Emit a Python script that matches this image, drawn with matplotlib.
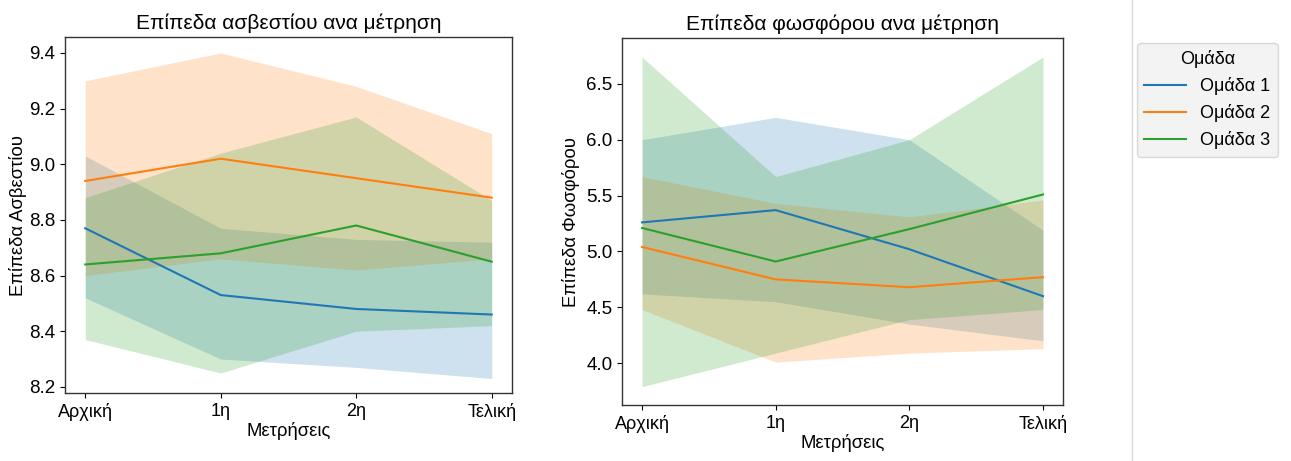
import numpy as np
import matplotlib
matplotlib.use("Agg")
import matplotlib.pyplot as plt
from matplotlib.lines import Line2D

matplotlib.rcParams.update({
    "font.family": ["Liberation Sans", "DejaVu Sans"],
    "font.size": 13,
    "axes.labelsize": 13.3,
    "xtick.labelsize": 13,
    "ytick.labelsize": 13.5,
    "axes.edgecolor": "#333333",
    "axes.linewidth": 1.0,
})

measures = ["Αρχική", "1η", "2η", "Τελική"]
groups = ["Ομάδα 1", "Ομάδα 2", "Ομάδα 3"]
colors = ["#1f77b4", "#ff7f0e", "#2ca02c"]

# calcium: mean, lower CI, upper CI per group
ca_mean = [[8.77, 8.53, 8.48, 8.46],
           [8.94, 9.02, 8.95, 8.88],
           [8.64, 8.68, 8.78, 8.65]]
ca_low = [[8.52, 8.30, 8.27, 8.23],
          [8.60, 8.66, 8.62, 8.66],
          [8.37, 8.25, 8.40, 8.42]]
ca_high = [[9.03, 8.77, 8.73, 8.72],
           [9.30, 9.40, 9.28, 9.11],
           [8.88, 9.04, 9.17, 8.87]]

# phosphorus
p_mean = [[5.26, 5.37, 5.02, 4.60],
          [5.04, 4.75, 4.68, 4.77],
          [5.21, 4.91, 5.20, 5.51]]
p_low = [[4.62, 4.55, 4.35, 4.20],
         [4.48, 4.01, 4.09, 4.13],
         [3.79, 4.09, 4.39, 4.48]]
p_high = [[6.00, 6.20, 6.00, 5.19],
          [5.67, 5.43, 5.31, 5.46],
          [6.74, 5.67, 6.00, 6.74]]

fig = plt.figure(figsize=(12.91, 4.61), dpi=100)
ax1 = fig.add_axes([0.0503, 0.1475, 0.3463, 0.772])
ax2 = fig.add_axes([0.4818, 0.1215, 0.3416, 0.796])

x = np.arange(len(measures))

def draw(ax, mean, low, high, title, ylabel, ylim, yticks, ypad):
    for g in range(len(groups)):
        ax.fill_between(x, low[g], high[g], color=colors[g], alpha=0.22,
                        linewidth=0)
    for g in range(len(groups)):
        ax.plot(x, mean[g], color=colors[g], lw=1.5, label=groups[g])
    ax.set_xticks(x)
    ax.set_xticklabels(measures)
    ax.set_yticks(yticks)
    ax.set_xlim(-0.15, 3.15)
    ax.set_ylim(*ylim)
    ax.set_title(title, fontsize=15, pad=6)
    ax.set_xlabel("Μετρήσεις", labelpad=1)
    ax.set_ylabel(ylabel, labelpad=ypad)

draw(ax1, ca_mean, ca_low, ca_high, "Επίπεδα ασβεστίου ανα μέτρηση",
     "Επίπεδα Ασβεστίου", (8.178, 9.457),
     [8.2, 8.4, 8.6, 8.8, 9.0, 9.2, 9.4], 1.5)
draw(ax2, p_mean, p_low, p_high, "Επίπεδα φωσφόρου ανα μέτρηση",
     "Επίπεδα Φωσφόρου", (3.626, 6.91),
     [4.0, 4.5, 5.0, 5.5, 6.0, 6.5], 4)
ax1.set_yticklabels([f"{v:.1f}" for v in ax1.get_yticks()])

leg = ax2.legend(title="Ομάδα", loc="upper left", bbox_to_anchor=(1.168, 0.986),
                 borderaxespad=0, fontsize=13, title_fontsize=13,
                 handlelength=2.3, frameon=True,
                 facecolor="#f0f0f0", edgecolor="#d0d0d0")

fig.add_artist(Line2D([1132 / 1291, 1132 / 1291], [0, 1],
                      transform=fig.transFigure, color="#d8d8d8", lw=1))

fig.savefig("out.png", dpi=100, facecolor="white")
